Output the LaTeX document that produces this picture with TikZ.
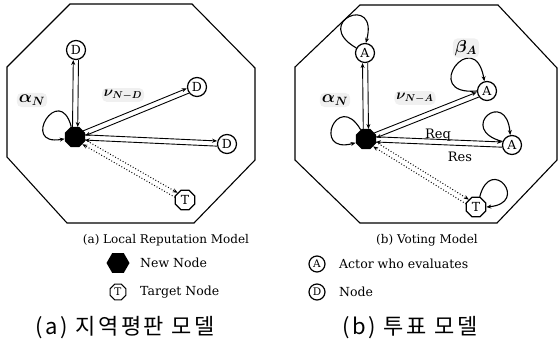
\documentclass[tikz,border=0pt]{standalone}
\usepackage{fontspec}
\setmainfont{DejaVu Serif}
\newfontfamily\kofont[LetterSpace=12]{Noto Sans CJK KR}
\usetikzlibrary{arrows.meta,calc,shapes.geometric}
\newcommand{\pairarr}[3]{%
  \draw[arr,#3,shorten <=10pt,shorten >=10pt] ($(#1)!2.6pt!90:(#2)$) -- ($(#2)!2.6pt!-90:(#1)$);
  \draw[arr,#3,shorten <=10pt,shorten >=10pt] ($(#2)!2.6pt!90:(#1)$) -- ($(#1)!2.6pt!-90:(#2)$);
}
\begin{document}
\begin{tikzpicture}[x=1pt,y=-1pt,
  frame/.style={line width=1.1pt,line join=miter},
  nd/.style={circle,draw,line width=1.2pt,minimum size=19pt,inner sep=0pt,font=\fontsize{12.5}{12.5}\selectfont},
  tg/.style={regular polygon,regular polygon sides=8,draw,line width=1.2pt,minimum size=21pt,inner sep=0pt,font=\fontsize{12.5}{12.5}\selectfont},
  hub/.style={regular polygon,regular polygon sides=8,fill=black,minimum size=22pt,inner sep=0pt},
  arr/.style={-{Stealth[length=5pt,width=4pt]},line width=0.9pt},
  dots/.style={dotted,line width=1pt},
  lbl/.style={fill=black!6,rounded corners=5pt,inner sep=2pt},
  big/.style={font=\LARGE\boldmath},
  mid/.style={font=\Large\boldmath},
  loopy/.style={arr,line width=1.1pt},
  captxt/.style={font=\fontsize{12}{12}\selectfont},
  rr/.style={font=\fontsize{13}{13}\selectfont},
  leg/.style={font=\fontsize{12.5}{12.5}\selectfont,anchor=west,inner sep=0pt},
  ko/.style={font=\fontsize{22}{22}\kofont,anchor=west,inner sep=0pt}]
\useasboundingbox (0,0) rectangle (558,343);
% frames
\draw[frame] (70,4) -- (192,4) -- (255,68) -- (255,160) -- (194,223) -- (67,223) -- (7,157) -- (7,67) -- cycle;
\draw[frame] (360,5) -- (498,5) -- (557,68) -- (557,160) -- (497,223) -- (360,223) -- (295,160) -- (295,67) -- cycle;
% left panel
\node[hub] (hL) at (75,137) {};
\node[nd] (D1) at (76,50) {D};
\node[nd] (D2) at (197,87) {D};
\node[nd] (D3) at (227,144) {D};
\node[tg] (TL) at (185,200) {T};
\pairarr{hL}{D1}{}
\pairarr{hL}{D2}{}
\pairarr{hL}{D3}{}
\pairarr{hL}{TL}{dots}
\draw[loopy] (hL.110) .. controls +(105:46pt) and +(190:46pt) .. (hL.190);
\node[lbl,big] (aL) at (32,100) {$\alpha_N$};
\node[lbl,mid] (vL) at (123,95) {$\nu_{N-D}$};
% right panel
\node[hub] (hR) at (366,139) {};
\node[nd] (A1) at (365,53) {A};
\node[nd] (A2) at (487,91) {A};
\node[nd] (A3) at (512,145) {A};
\node[tg] (TR) at (476,207) {T};
\pairarr{hR}{A1}{}
\pairarr{hR}{A2}{}
\pairarr{hR}{A3}{}
\pairarr{hR}{TR}{dots}
\draw[loopy] (hR.120) .. controls +(120:46pt) and +(195:46pt) .. (hR.200);
\draw[loopy] (A1.150) .. controls +(150:52pt) and +(75:52pt) .. (A1.85);
\draw[loopy] (A2.180) .. controls +(185:58pt) and +(100:58pt) .. (A2.105);
\draw[loopy] (A3.160) .. controls +(165:48pt) and +(95:48pt) .. (A3.100);
\draw[loopy] (TR.70) .. controls +(75:44pt) and +(5:44pt) .. (TR.0);
\node[lbl,big] (aR) at (335,100) {$\alpha_N$};
\node[lbl,big] (bR) at (466,48) {$\beta_A$};
\node[lbl,mid] (vR) at (415,98) {$\nu_{N-A}$};
\node[rr] (req) at (438,135) {Req};
\node[rr] (res) at (460,157) {Res};
% captions
\node[captxt] (capa) at (166,240) {(a) Local Reputation Model};
\node[captxt] (capb) at (427,240) {(b) Voting Model};
% legend
\node[regular polygon,regular polygon sides=6,fill=black,minimum size=23pt,inner sep=0pt] (lh) at (118,263) {};
\node[leg] (lht) at (140,263) {New Node};
\node[tg,minimum size=17pt,font=\fontsize{10.5}{10.5}\selectfont] (lt) at (118,292) {T};
\node[leg] (ltt) at (140,292) {Target Node};
\node[nd,minimum size=16pt,font=\fontsize{10.5}{10.5}\selectfont] (la) at (317,264) {A};
\node[leg] (lat) at (339,264) {Actor who evaluates};
\node[nd,minimum size=16pt,font=\fontsize{10.5}{10.5}\selectfont] (ld) at (317,292) {D};
\node[leg] (ldt) at (339,292) {Node};
% korean
\node[ko] (koa) at (35,328) {(a) 지역평판 모델};
\node[ko] (kob) at (342,328) {(b) 투표 모델};
\end{tikzpicture}
\end{document}
